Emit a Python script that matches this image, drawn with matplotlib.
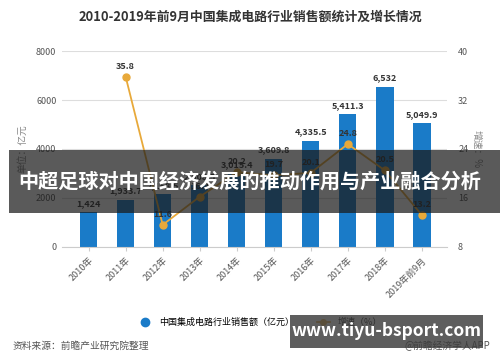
import numpy as np
import matplotlib
matplotlib.use('Agg')
import matplotlib.pyplot as plt
from matplotlib.lines import Line2D

plt.rcParams['font.family'] = ['Noto Sans CJK SC', 'DejaVu Sans']

# data
years = ['2010年', '2011年', '2012年', '2013年', '2014年', '2015年',
         '2016年', '2017年', '2018年', '2019年前9月']
sales = [1424, 1933.7, 2158.5, 2508.5, 3015.4, 3609.8, 4335.5, 5411.3, 6532, 5049.9]
sales_labels = ['1,424', '1,933.7', '2,158.5', '2,508.5', '3,015.4', '3,609.8',
                '4,335.5', '5,411.3', '6,532', '5,049.9']
growth = [None, 35.8, 11.6, 16.2, 20.2, 19.7, 20.1, 24.8, 20.5, 13.2]

bar_color = '#1a7bc8'
line_color = '#e8a93a'

fig = plt.figure(figsize=(5, 3.62), dpi=100)
ax = fig.add_axes([0.124, 0.318, 0.77, 0.541])
x = np.arange(len(years))

ax.bar(x, sales, width=0.47, color=bar_color, zorder=2)
for xi, v, s in zip(x, sales, sales_labels):
    ax.text(xi, v + 180, s, ha='center', va='bottom', fontsize=6.5,
            color='#333333', fontweight='bold')

ax.set_xlim(-0.72, 9.68)
ax.set_ylim(0, 8000)
ax.set_yticks([0, 2000, 4000, 6000, 8000])
ax.grid(axis='y', color='#dddddd', linewidth=0.8, zorder=0)
for sp in ['top', 'right', 'left']:
    ax.spines[sp].set_visible(False)
ax.spines['bottom'].set_color('#cccccc')
ax.tick_params(axis='y', length=0, labelsize=6.5, labelcolor='#555555', pad=4)
ax.tick_params(axis='x', length=3, color='#cccccc', labelsize=6.5, labelcolor='#555555')
ax.set_xticks(x)
ax.set_xticklabels(years, rotation=45, ha='right', rotation_mode='anchor')
ax.set_ylabel('单位：亿元', fontsize=7, color='#888888', labelpad=6)

ax2 = ax.twinx()
gx = [xi for xi, g in zip(x, growth) if g is not None]
gy = [g for g in growth if g is not None]
ax2.plot(gx, gy, color=line_color, linewidth=1.3, marker='o', markersize=5, zorder=3)
for xi, g in zip(gx, gy):
    ax2.text(xi, g + 1.0, f'{g}', ha='center', va='bottom', fontsize=6.5,
             color='#333333', fontweight='bold')
ax2.set_ylim(8, 40)
ax2.set_yticks([8, 16, 24, 32, 40])
for sp in ['top', 'right', 'left', 'bottom']:
    ax2.spines[sp].set_visible(False)
ax2.tick_params(axis='y', length=0, labelsize=6.5, labelcolor='#555555', pad=8)
ax2.set_ylabel('增速：%', fontsize=7, color='#888888', rotation=270, labelpad=10)

fig.text(0.5, 0.955, '2010-2019年前9月中国集成电路行业销售额统计及增长情况',
         ha='center', va='center', fontsize=9.3, fontweight='bold', color='#333333')

# legend
handles = [Line2D([0], [0], marker='o', color='none', markerfacecolor=bar_color,
                  markeredgecolor=bar_color, markersize=6),
           Line2D([0], [0], marker='o', color=line_color, markersize=4, linewidth=1.3)]
fig.legend(handles, ['中国集成电路行业销售额（亿元）', '增速（%）'], loc='center',
           bbox_to_anchor=(0.52, 0.11), ncol=2, frameon=False, fontsize=6.5,
           handlelength=1.5, columnspacing=2.5)

fig.text(0.025, 0.045, '资料来源：前瞻产业研究院整理', fontsize=7, color='#555555', va='center')
fig.text(0.98, 0.045, '@前瞻经济学人APP', fontsize=7, color='#555555', va='center', ha='right')

# overlay banner
fig.patches.append(plt.Rectangle((0.018, 0.412), 0.982, 0.174, transform=fig.transFigure,
                                 facecolor='#1a1a1a', alpha=0.72, zorder=10))
fig.text(0.5, 0.50, '中超足球对中国经济发展的推动作用与产业融合分析', ha='center', va='center',
         fontsize=14.5, fontweight='bold', color='white', zorder=11)

fig.patches.append(plt.Rectangle((0.58, 0.04), 0.385, 0.09, transform=fig.transFigure,
                                 facecolor='#3a3a3a', alpha=0.82, zorder=10))
fig.text(0.773, 0.087, 'www.tiyu-bsport.com', ha='center', va='center',
         fontsize=12.5, fontweight='bold', color='white', zorder=11)

fig.savefig('out.png', dpi=100)
